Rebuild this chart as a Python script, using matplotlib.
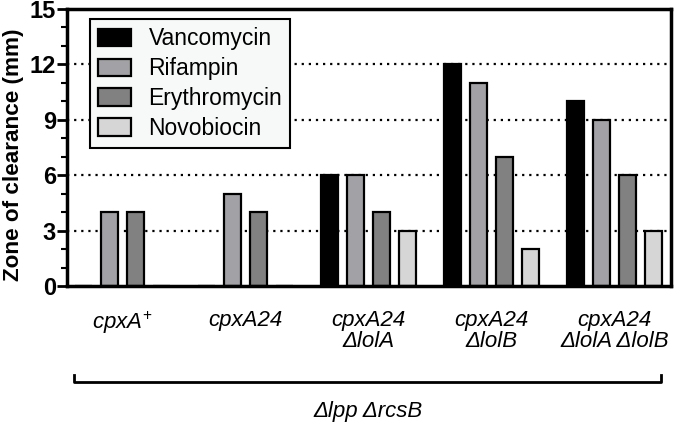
import numpy as np
import matplotlib
matplotlib.use('Agg')
import matplotlib.pyplot as plt
import matplotlib.transforms as mtransforms

plt.rcParams['font.family'] = ['Liberation Sans', 'DejaVu Sans']
plt.rcParams['mathtext.fontset'] = 'custom'
plt.rcParams['mathtext.rm'] = 'Liberation Sans'
plt.rcParams['mathtext.it'] = 'Liberation Sans:italic'

strains = [r'$cpxA^{+}$', 'cpxA24', 'cpxA24\nΔlolA', 'cpxA24\nΔlolB', 'cpxA24\nΔlolA ΔlolB']
drugs = ['Vancomycin', 'Rifampin', 'Erythromycin', 'Novobiocin']
vancomycin = [0, 0, 6, 12, 10]
rifampin = [4, 5, 6, 11, 9]
erythromycin = [4, 4, 4, 7, 6]
novobiocin = [0, 0, 3, 2, 3]
colors = ['#000000', '#a2a2a6', '#818181', '#d6d6d6']

series = [vancomycin, rifampin, erythromycin, novobiocin]

fig = plt.figure(figsize=(6.77, 4.25), dpi=100)
ax = fig.add_axes([0.099, 0.327, 0.892, 0.652])

gap = 4.73
centers = np.arange(len(strains)) * gap
offsets = [-1.5, -0.5, 0.5, 1.5]
for vals, off, col, name in zip(series, offsets, colors, drugs):
    ax.bar(centers + off, vals, width=0.63, color=col, edgecolor='black',
           linewidth=1.6, label=name, zorder=2)

ax.set_xlim(-2.13, centers[-1] + 2.17)
ax.set_ylim(0, 15)
ax.set_yticks([0, 3, 6, 9, 12, 15])
ax.set_yticks(np.arange(0, 16, 1), minor=True)
for yv in [3, 6, 9, 12]:
    ax.axhline(yv, color='black', linestyle=(0, (1, 2.2)), linewidth=1.6, zorder=1)

for s in ax.spines.values():
    s.set_linewidth(2.5)
ax.tick_params(axis='y', which='major', length=7, width=2, labelsize=17, pad=1)
ax.tick_params(axis='y', which='minor', length=4, width=1.5)
for lbl in ax.get_yticklabels():
    lbl.set_fontweight('bold')
ax.set_xticks(centers)
ax.set_xticklabels(strains, fontsize=16, style='italic', linespacing=1.05, va='top')
ax.tick_params(axis='x', length=0, pad=17)
ax.set_ylabel('Zone of clearance (mm)', fontsize=16.2, fontweight='bold', va='center')
ax.yaxis.set_label_coords(-0.088, 0.473)

leg = ax.legend(loc='upper left', bbox_to_anchor=(0.038, 0.962), borderaxespad=0,
                fontsize=16.5, frameon=True, fancybox=False, framealpha=1,
                edgecolor='black', facecolor='#f7f9f9', handlelength=1.45,
                handleheight=0.8, labelspacing=0.3, handletextpad=0.75,
                borderpad=0.35)
leg.get_frame().set_linewidth(1.5)
leg.set_zorder(5)

trans = mtransforms.blended_transform_factory(ax.transData, ax.transAxes)
xl = centers[0] - 1.85
xr = centers[-1] + 1.8
ax.plot([xl, xl, xr, xr], [-0.321, -0.347, -0.347, -0.321], color='black',
        linewidth=2, transform=trans, clip_on=False)
ax.text((xl + xr) / 2, -0.452, 'Δlpp ΔrcsB', transform=trans, ha='center',
        va='center', fontsize=16, style='italic')

fig.savefig('out.png', dpi=100)
